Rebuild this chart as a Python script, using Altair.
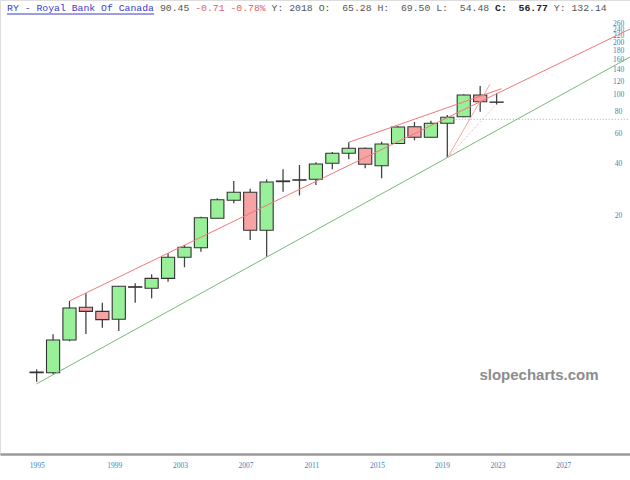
import altair as alt
import pandas as pd

# ---------------- data ----------------
years  = list(range(1995, 2024))
opens  = [2.46, 2.46, 3.80, 5.88, 5.57, 5.02, 7.68, 7.58, 8.65, 11.47, 13.02, 19.27, 24.49, 27.25, 16.42,
          31.40, 32.20, 32.40, 40.11, 45.82, 48.98, 38.84, 52.22, 65.28, 56.72, 68.36, 74.60, 99.68, 90.80]
highs  = [2.57, 4.10, 6.40, 7.09, 6.25, 7.80, 8.10, 9.13, 12.08, 13.50, 19.68, 25.15, 31.68, 28.58, 32.40,
          37.02, 39.21, 40.64, 46.62, 53.07, 49.50, 53.49, 66.00, 69.50, 70.77, 76.36, 100.6, 112.4, 101.96]
lows   = [2.18, 2.42, 3.74, 4.12, 4.48, 4.29, 6.25, 6.63, 8.27, 10.03, 12.34, 19.27, 23.53, 14.43, 11.55,
          27.47, 26.11, 30.03, 37.02, 42.30, 37.52, 32.84, 52.10, 54.48, 56.50, 43.03, 74.04, 79.80, 87.60]
closes = [2.48, 3.80, 5.83, 5.57, 4.99, 7.78, 7.74, 8.65, 11.47, 13.09, 19.42, 24.69, 27.25, 16.42, 31.25,
          31.70, 32.00, 39.73, 45.82, 48.98, 39.58, 51.88, 65.00, 56.77, 68.36, 74.04, 99.68, 91.17, 90.45]

# trend lines (year, price) end points
red_main_years  = [1997.0, 2031.12]
red_main_prices = [6.40, 240.2]
red_top_years   = [2014.0, 2023.3]
red_top_prices  = [53.07, 108.5]
green_years     = [1994.98, 2031.12]
green_prices    = [2.116, 165.4]
fan1_years      = [2020.0, 2022.6]
fan1_prices     = [43.03, 115.4]
fan2_years      = [2020.0, 2023.0]
fan2_prices     = [43.03, 88.4]
hline_years     = [2019.6, 2031.12]
hline_prices    = [72.1, 72.1]

x_tick_values = [1995, 1999.72, 2003.72, 2007.72, 2011.72, 2015.72, 2019.68, 2023.05, 2027.05]
y_tick_values = [20, 40, 60, 80, 100, 120, 140, 160, 180, 200, 220, 240, 260]

title_parts = [  # text, char offset, colour, bold
    ("RY - Royal Bank Of Canada", 0, "#3b3bcc", False),
    ("90.45", 26, "#555555", False),
    ("-0.71", 32, "#e06262", False),
    ("-0.78%", 38, "#e06262", False),
    ("Y: 2018 O:", 45, "#555555", False),
    ("65.28 H:", 57, "#555555", False),
    ("69.50 L:", 67, "#555555", False),
    ("54.48", 77, "#555555", False),
    ("C:", 83, "#222222", True),
    ("56.77", 87, "#222222", True),
    ("Y: 132.14", 93, "#555555", False),
]

# ---------------- chart ----------------
W, H = 630, 454
xs = alt.Scale(domain=[1992.77, 2031.12], nice=False, zero=False)
ys = alt.Scale(type="log", domain=[0.832, 353.7], nice=False)

df = pd.DataFrame(dict(year=years, open=opens, high=highs, low=lows, close=closes))

x_axis = alt.Axis(values=x_tick_values, labelExpr="format(floor(datum.value), 'd')",
                  title=None, grid=False, ticks=False, tickSize=0, labelPadding=7,
                  domainColor="#9a9a9a", domainWidth=2.5, labelFont="Liberation Serif",
                  labelFontSize=7.5, labelColor="#3d7fb8", labelFlush=False,
                  labelOverlap=False, labelBound=False, orient="bottom")
y_axis = alt.Axis(values=y_tick_values, orient="right", offset=-12, title=None, grid=False,
                  ticks=False, tickSize=0, labelPadding=0, domain=False, labelAlign="center",
                  labelBaseline="middle", labelFont="Liberation Serif", labelFontSize=7.5,
                  labelColor="#3d7fb8", labelOverlap=False, labelExpr="format(datum.value, 'd')",
                  labelBound=False)

wick = alt.Chart(df).mark_rule(color="#444444", strokeWidth=1.3).encode(
    x=alt.X("year:Q", scale=xs, axis=x_axis),
    y=alt.Y("low:Q", scale=ys, axis=y_axis),
    y2="high:Q",
)

body = alt.Chart(df).transform_calculate(
    x0="datum.year - 0.4", x1="datum.year + 0.4"
).mark_rect(stroke="#333333", strokeWidth=1.1).encode(
    x=alt.X("x0:Q", scale=xs, axis=x_axis),
    x2="x1:Q",
    y=alt.Y("open:Q", scale=ys, axis=y_axis),
    y2="close:Q",
    fill=alt.condition("datum.close >= datum.open", alt.value("#98f098"), alt.value("#f5a3a3")),
)


def seg(yrs, prices, color, width=1.0, dash=None, opacity=1.0):
    d = pd.DataFrame(dict(year=yrs, price=prices))
    kw = dict(color=color, strokeWidth=width, opacity=opacity, clip=True)
    if dash:
        kw["strokeDash"] = dash
    return alt.Chart(d).mark_line(**kw).encode(
        x=alt.X("year:Q", scale=xs, axis=x_axis),
        y=alt.Y("price:Q", scale=ys, axis=y_axis),
    )


lines = [
    seg(hline_years, hline_prices, "#a8a8a8", 1.0, [1, 2]),
    seg(green_years, green_prices, "#78b878", 1.0),
    seg(red_main_years, red_main_prices, "#f07878", 1.0),
    seg(red_top_years, red_top_prices, "#f07878", 1.0),
    seg(fan1_years, fan1_prices, "#f29a9a", 0.9),
    seg(fan2_years, fan2_prices, "#f4b0b0", 0.9, [2, 2]),
]

one = pd.DataFrame({"a": [0]})
title_marks = []
for txt, off, col, bold in title_parts:
    title_marks.append(
        alt.Chart(one).mark_text(
            text=txt, font="Liberation Mono", fontSize=9.8, align="left", baseline="middle",
            color=col, fontWeight="bold" if bold else "normal",
        ).encode(x=alt.value(7 + off * 5.88), y=alt.value(8))
    )

underline = alt.Chart(one).mark_rule(color="#3b3bcc", strokeWidth=1).encode(
    x=alt.value(7), x2=alt.value(154), y=alt.value(14)
)

watermark = alt.Chart(one).mark_text(
    text="slopecharts.com", font="Liberation Sans", fontSize=15, fontWeight="bold",
    color="#8c8c8c", align="center", baseline="middle"
).encode(x=alt.value(539), y=alt.value(375))

chart = alt.layer(wick, body, *lines, watermark, underline, *title_marks).properties(
    width=W, height=H,
    padding={"left": 0, "top": 0, "right": 0, "bottom": 26},
    autosize="none",
).configure_view(stroke=None).configure(background="white")

chart.save("out.html", embed_options={"renderer": "svg", "actions": False})
